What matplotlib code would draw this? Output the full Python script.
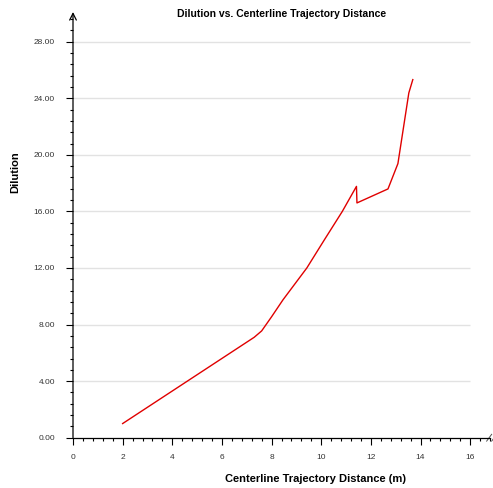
import numpy as np
import matplotlib.pyplot as plt
from matplotlib.ticker import MultipleLocator, FormatStrFormatter

# Dilution along the centerline trajectory
distance = [2.0, 7.3, 7.6, 8.0, 8.46, 9.42, 10.13, 10.85, 11.42, 11.44, 12.69, 13.09, 13.53, 13.69]
dilution = [1.0, 7.1, 7.55, 8.55, 9.75, 12.0, 14.0, 16.0, 17.77, 16.6, 17.59, 19.38, 24.38, 25.32]

y_ticks = [0, 4, 8, 12, 16, 20, 24, 28]
x_ticks = [0, 2, 4, 6, 8, 10, 12, 14, 16]

plt.rcParams['font.family'] = ['Liberation Sans', 'DejaVu Sans']

fig = plt.figure(figsize=(4.93, 4.88), dpi=100)
ax = fig.add_axes([73 / 493, (488 - 437.7) / 488, 417 / 493, 425.7 / 488])

ax.set_xlim(0, 16.8)
ax.set_ylim(0, 30.1)

# horizontal grid lines, stopping at the last x tick
ax.hlines(y_ticks[1:], 0, x_ticks[-1], color='#e2e2e2', lw=1.0, zorder=0)

ax.plot(distance, dilution, color='#e00000', lw=1.0, zorder=3)

for s in ['top', 'right', 'left']:
    ax.spines[s].set_visible(False)
ax.spines['bottom'].set_linewidth(0.9)

# y axis drawn as an arrow
ax.annotate('', xy=(0, 1.0), xytext=(0, 0), xycoords='axes fraction',
            arrowprops=dict(arrowstyle='->', lw=0.9, color='black',
                            mutation_scale=12, shrinkA=0, shrinkB=0))

# axis break mark at the right end of x axis
for dx in [0, 0.012]:
    ax.plot([0.992 + dx, 1.004 + dx], [-0.008, 0.008], color='#555555',
            lw=0.7, transform=ax.transAxes, clip_on=False)

ax.set_yticks(y_ticks)
ax.set_xticks(x_ticks)
ax.yaxis.set_major_formatter(FormatStrFormatter('%.2f'))
ax.yaxis.set_minor_locator(MultipleLocator(0.8))
ax.xaxis.set_minor_locator(MultipleLocator(0.4))
ax.tick_params(axis='both', which='major', length=5, width=0.8, labelsize=6,
               labelcolor='#333333', direction='out')
ax.tick_params(axis='both', which='minor', length=2.5, width=0.8, direction='out')
ax.tick_params(axis='x', which='major', pad=7)
ax.tick_params(axis='y', which='major', pad=8)

fig.text(0.572, 0.972, 'Dilution vs. Centerline Trajectory Distance',
         ha='center', va='center', fontsize=7.5, fontweight='bold')
fig.text(0.64, 0.019, 'Centerline Trajectory Distance (m)',
         ha='center', va='center', fontsize=8, fontweight='bold')
fig.text(0.03, 1 - 172 / 488, 'Dilution', rotation=90,
         ha='center', va='center', fontsize=8, fontweight='bold')

fig.savefig('out.png', dpi=100)
